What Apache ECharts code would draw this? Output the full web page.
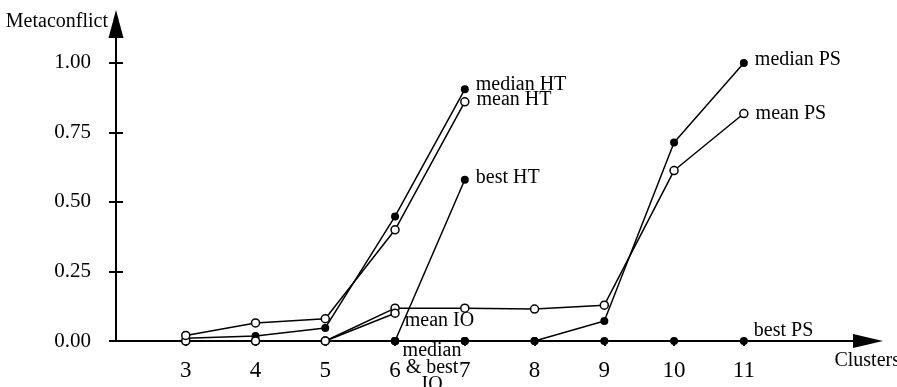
<!DOCTYPE html>
<html>
<head>
<meta charset="utf-8">
<script src="https://cdn.jsdelivr.net/npm/echarts@6/dist/echarts.min.js"></script>
<style>
html,body{margin:0;padding:0;background:#fff;}
#chart{width:897px;height:387px;}
</style>
</head>
<body>
<div id="chart"></div>
<script>
// ---- data ----
const clusters = [3, 4, 5, 6, 7, 8, 9, 10, 11];
const yTicks = [0, 0.25, 0.5, 0.75, 1.0];
const yTickLabels = ['0.00', '0.25', '0.50', '0.75', '1.00'];

const medianHT = [0.01, 0.018, 0.047, 0.448, 0.905];
const meanHT   = [0.02, 0.065, 0.08, 0.40, 0.86];
const bestHT   = [0, 0, 0, 0, 0.58];
const medianBestIO = [0, 0, 0, 0, 0];
const meanIO   = [0, 0, 0, 0.10];
const medianPS = [0, 0, 0, 0, 0, 0, 0.072, 0.714, 1.0];
const meanPS   = [0, 0, 0, 0.118, 0.118, 0.115, 0.129, 0.613, 0.818];
const bestPS   = [0, 0, 0, 0, 0, 0, 0, 0, 0];

// ---- chart ----
const FONT = 'Liberation Serif';
const chart = echarts.init(document.getElementById('chart'), null, {renderer: 'canvas'});

function pairs(vals, labelIdx, label) {
  return vals.map(function (v, i) {
    const item = {value: [clusters[i], v]};
    if (i === labelIdx && label) item.label = label;
    return item;
  });
}
function lbl(text, opts) {
  return Object.assign({
    show: true, formatter: text, color: '#000', fontFamily: FONT, fontSize: 20,
    position: 'right', distance: 7
  }, opts || {});
}
function line(name, vals, open, labelIdx, label) {
  return {
    type: 'line', name: name, xAxisIndex: 0, yAxisIndex: 0,
    data: pairs(vals, labelIdx, label),
    symbol: 'circle', symbolSize: 8, showSymbol: true,
    lineStyle: {color: '#000', width: 1.5},
    itemStyle: open ? {color: '#fff', borderColor: '#000', borderWidth: 1.5}
                    : {color: '#000', borderColor: '#000', borderWidth: 0},
    label: {show: false},
    emphasis: {disabled: true},
    animation: false
  };
}

const XMIN = 2, XMAX = 12.78, YMAX = 1.14;
const axisLineStyle = {color: '#000', width: 2};

chart.setOption({
  backgroundColor: '#fff',
  animation: false,
  grid: {left: 116, right: 29, top: 24, bottom: 46, containLabel: false, outerBoundsMode: 'none'},
  xAxis: [{
    type: 'value', min: XMIN, max: XMAX, position: 'bottom',
    axisLine: {show: true, onZero: false, lineStyle: axisLineStyle, symbol: ['none', 'triangle'], symbolSize: [14, 30]},
    axisTick: {show: true, length: 5, lineStyle: axisLineStyle, customValues: clusters},
    axisLabel: {show: true, customValues: clusters, color: '#000', fontFamily: FONT, fontSize: 23, margin: 18},
    splitLine: {show: false},
    name: 'Clusters', nameLocation: 'end', nameGap: 32,
    nameTextStyle: {color: '#000', fontFamily: FONT, fontSize: 20, align: 'right', verticalAlign: 'top', padding: [10, 0, 0, 0]}
  }, {
    type: 'value', min: XMIN, max: XMAX, position: 'top', offset: -317,
    axisLine: {show: false},
    axisTick: {show: true, length: 4, lineStyle: axisLineStyle, customValues: clusters},
    axisLabel: {show: false}, splitLine: {show: false}
  }],
  yAxis: [{
    type: 'value', min: 0, max: YMAX, position: 'left',
    axisLine: {show: true, onZero: false, lineStyle: axisLineStyle, symbol: ['none', 'triangle'], symbolSize: [15, 28]},
    axisTick: {show: true, length: 7, lineStyle: axisLineStyle, customValues: yTicks},
    axisLabel: {show: true, customValues: yTicks, color: '#000', fontFamily: FONT, fontSize: 21, margin: 25,
      formatter: function (v) { const i = yTicks.indexOf(v); return i >= 0 ? yTickLabels[i] : ''; }},
    splitLine: {show: false},
    name: 'Metaconflict', nameLocation: 'end', nameGap: -8,
    nameTextStyle: {color: '#000', fontFamily: FONT, fontSize: 20, align: 'right', verticalAlign: 'bottom', padding: [0, 8, 0, 0]}
  }, {
    type: 'value', min: 0, max: YMAX, position: 'right', offset: -752,
    axisLine: {show: false},
    axisTick: {show: true, length: 7, lineStyle: axisLineStyle, customValues: yTicks},
    axisLabel: {show: false}, splitLine: {show: false}
  }],
  series: [
    line('best PS', bestPS, false, 8, lbl('best PS', {distance: 6, offset: [0, -10]})),
    line('median & best IO', medianBestIO, false, 3, lbl('median\n& best\nIO', {position: 'bottom', distance: 0, offset: [37, -3], align: 'center', lineHeight: 17})),
    line('median PS', medianPS, false, 8, lbl('median PS', {offset: [0, -3]})),
    line('best HT', bestHT, false, 4, lbl('best HT', {offset: [0, -2]})),
    line('median HT', medianHT, false, 4, lbl('median HT', {offset: [0, -5]})),
    line('mean PS', meanPS, true, 8, lbl('mean PS', {offset: [0, 0]})),
    line('mean IO', meanIO, true, 3, lbl('mean IO', {distance: 5, offset: [0, 8]})),
    line('mean HT', meanHT, true, 4, lbl('mean HT', {offset: [0, -2]}))
  ]
});
</script>
</body>
</html>
